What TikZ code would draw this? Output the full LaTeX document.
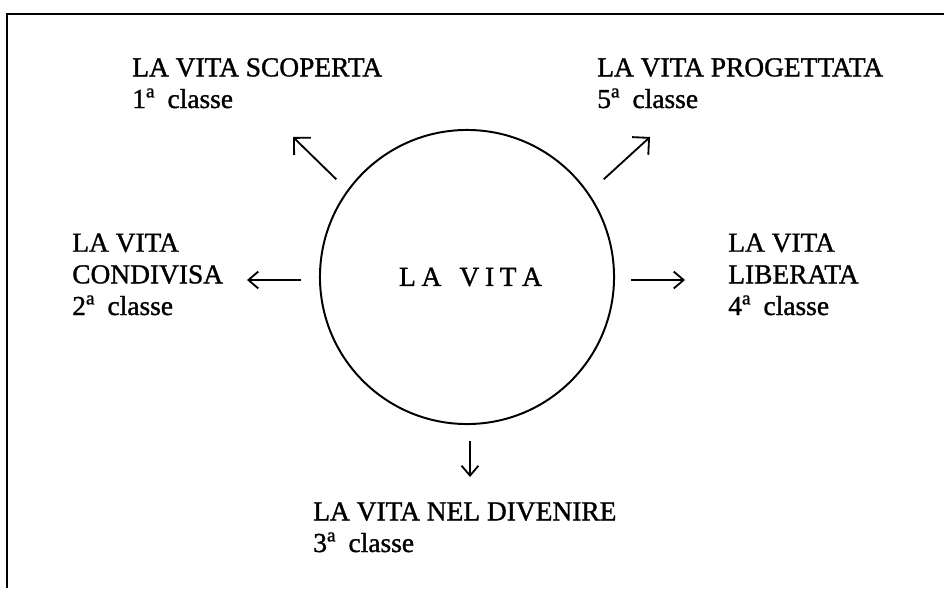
\documentclass[tikz,border=0pt]{standalone}
\usepackage{fontspec}
\setmainfont{Liberation Serif}
\newfontfamily\stampa{Liberation Serif}[FakeBold=1.2]
\usetikzlibrary{arrows.meta}

\begin{document}
\begin{tikzpicture}[
    x=0.025cm, y=0.025cm,
    >={Straight Barb[length=7pt,width=12pt]},
    freccia/.style={->, line width=1.3pt},
    obliqua/.style={-{Straight Barb[length=8.5pt,width=17pt]}, line width=1.3pt},
    classe/.style={anchor=base west, align=left, inner sep=0pt,
                   font=\stampa\fontsize{19.5}{22.5}\selectfont},
    vita/.style={draw, circle, minimum size=7.35cm, line width=1.4pt,
                 font=\stampa\fontsize{19.5}{22.5}\selectfont}
  ]
  \useasboundingbox (0,0) rectangle (944,588);
  \draw[line width=1.7pt] (944,574) -- (7,574) -- (7,0);

  \node[vita] (centro) at (467,311) {\hspace{5pt}L\kern4pt A\hspace{13pt}V\kern4pt I\kern4pt T\kern4pt A};

  % il punto base e' sull'ultima riga
  \node[classe] (scoperta) at (132,480) {LA VITA SCOPERTA\\1\textsuperscript{a}\hspace{.45em}classe};
  \node[classe] (progettata) at (597,480) {LA VITA PROGETTATA\\5\textsuperscript{a}\hspace{.45em}classe};
  \node[classe] (condivisa) at (72,273) {LA VITA\\CONDIVISA\\2\textsuperscript{a}\hspace{.45em}classe};
  \node[classe] (liberata) at (728,273) {LA VITA\\LIBERATA\\4\textsuperscript{a}\hspace{.45em}classe};
  \node[classe] (divenire) at (313,36) {LA VITA NEL DIVENIRE\\3\textsuperscript{a}\hspace{.45em}classe};

  \coordinate (fine1) at (293,451);
  \coordinate (fine2) at (247,308);
  \coordinate (fine3) at (470,111);
  \coordinate (fine4) at (685,308);
  \coordinate (fine5) at (650,451);

  \draw[obliqua] ([shift={(-26,-7)}]centro.135) -- (fine1);
  \draw[freccia] ([shift={(-18,-3)}]centro.west) -- (fine2);
  \draw[freccia] ([shift={(3,-16)}]centro.south) -- (fine3);
  \draw[freccia] ([shift={(16,-3)}]centro.east) -- (fine4);
  \draw[obliqua] ([shift={(32,-7)}]centro.45) -- (fine5);
\end{tikzpicture}
\end{document}
